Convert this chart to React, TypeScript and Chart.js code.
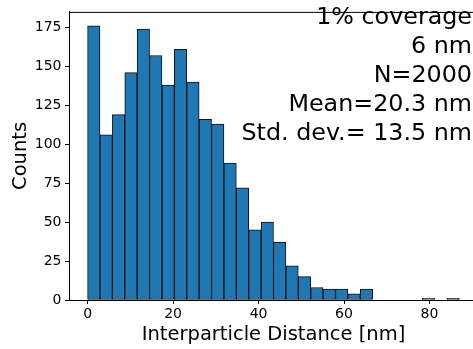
import React, { useEffect, useRef } from "react";
import { Chart, registerables } from "chart.js";

Chart.register(...registerables);

// Histogram bin edges (nm) and counts
const binEdges = [
  0, 2.9, 5.8, 8.7, 11.6, 14.5, 17.4, 20.3, 23.2, 26.1, 29, 31.9, 34.8, 37.7,
  40.6, 43.5, 46.4, 49.3, 52.2, 55.1, 58, 60.9, 63.8, 66.7, 69.6, 72.5, 75.4,
  78.3, 81.2, 84.1, 87,
];
const counts = [
  176, 106, 119, 146, 174, 157, 138, 161, 140, 116, 113, 88, 72, 45, 50, 37, 22,
  15, 8, 7, 7, 4, 7, 0, 0, 0, 0, 1, 0, 1,
];
const xTicks = [0, 20, 40, 60, 80];
const yTicks = [0, 25, 50, 75, 100, 125, 150, 175];
const xRange = [-4.35, 91.35];
const yRange = [0, 185];
const annotationLines = [
  "1% coverage",
  "6 nm",
  "N=2000",
  "Mean=20.3 nm",
  "Std. dev.= 13.5 nm",
];
const xTitle = "Interparticle Distance [nm]";
const yTitle = "Counts";

const FONT = '"DejaVu Sans", "Liberation Sans", sans-serif';

export default function App() {
  const ref = useRef<HTMLCanvasElement | null>(null);

  useEffect(() => {
    const canvas = ref.current;
    if (!canvas) return;
    const data = counts.map((c, i) => ({
      x: (binEdges[i] + binEdges[i + 1]) / 2,
      y: c,
    }));

    const framePlugin = {
      id: "frameAndText",
      afterDraw(chart: any) {
        const { ctx, chartArea } = chart;
        ctx.save();
        ctx.strokeStyle = "#000";
        ctx.lineWidth = 1;
        ctx.beginPath();
        ctx.moveTo(chartArea.left, chartArea.top + 0.5);
        ctx.lineTo(chartArea.right, chartArea.top + 0.5);
        ctx.moveTo(chartArea.right - 0.5, chartArea.top);
        ctx.lineTo(chartArea.right - 0.5, chartArea.bottom);
        ctx.stroke();
        ctx.fillStyle = "#000";
        ctx.font = `23.8px ${FONT}`;
        ctx.textAlign = "right";
        ctx.textBaseline = "alphabetic";
        annotationLines.forEach((t, i) => {
          ctx.fillText(t, 472, 24 + i * 29);
        });
        ctx.restore();
      },
    };

    const chart = new Chart(canvas, {
      type: "bar",
      data: {
        datasets: [
          {
            data,
            backgroundColor: "#1f77b4",
            borderColor: "#111",
            borderWidth: 1,
            borderSkipped: false,
            barPercentage: 1,
            categoryPercentage: 1,
          } as any,
        ],
      },
      options: {
        responsive: false,
        animation: false,
        devicePixelRatio: 1,
        layout: { padding: { top: 2, right: 2, left: 0, bottom: 0 } },
        plugins: {
          legend: { display: false },
          tooltip: { enabled: false },
        },
        scales: {
          x: {
            type: "linear",
            offset: false,
            min: xRange[0],
            max: xRange[1],
            afterBuildTicks: (s: any) => {
              s.ticks = xTicks.map((v) => ({ value: v }));
            },
            afterFit: (s: any) => {
              s.height = 49;
            },
            grid: {
              display: true,
              offset: false,
              drawOnChartArea: false,
              drawTicks: true,
              tickLength: 4,
              color: "#000",
              lineWidth: 1,
            },
            border: { display: true, color: "#000", width: 1 },
            ticks: {
              color: "#000",
              font: { family: FONT, size: 14 },
              padding: 2,
              maxRotation: 0,
              autoSkip: false,
            },
            title: {
              display: true,
              text: xTitle,
              color: "#000",
              font: { family: FONT, size: 19.5 },
              padding: { top: 0, bottom: 2 },
            },
          },
          y: {
            type: "linear",
            min: yRange[0],
            max: yRange[1],
            afterBuildTicks: (s: any) => {
              s.ticks = yTicks.map((v) => ({ value: v }));
            },
            afterFit: (s: any) => {
              s.width = 69;
            },
            grid: {
              display: true,
              drawOnChartArea: false,
              drawTicks: true,
              tickLength: 4,
              color: "#000",
              lineWidth: 1,
            },
            border: { display: true, color: "#000", width: 1 },
            ticks: {
              color: "#000",
              font: { family: FONT, size: 14 },
              padding: 3.5,
              autoSkip: false,
            },
            title: {
              display: true,
              text: yTitle,
              color: "#000",
              font: { family: FONT, size: 19.5 },
              padding: { top: 9, bottom: 0 },
            },
          },
        },
      },
      plugins: [framePlugin],
    } as any);

    return () => chart.destroy();
  }, []);

  return (
    <div
      style={{
        position: "fixed",
        left: 0,
        top: 0,
        width: 473,
        height: 349,
        overflow: "hidden",
        background: "#fff",
      }}
    >
      <canvas
        ref={ref}
        width={480}
        height={349}
        style={{ width: 480, height: 349, display: "block" }}
      />
    </div>
  );
}
